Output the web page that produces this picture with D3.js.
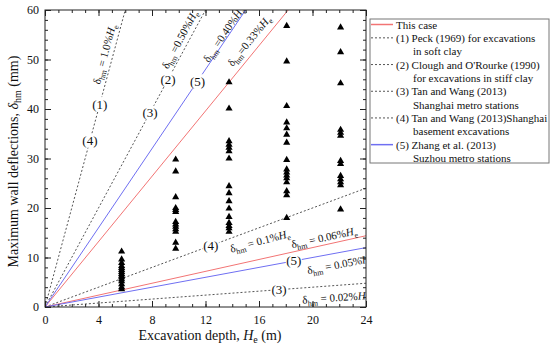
<!DOCTYPE html>
<html>
<head>
<meta charset="utf-8">
<script src="https://cdn.jsdelivr.net/npm/d3@7"></script>
<style>
  body { margin: 0; background: #fff; }
  text { font-family: "Liberation Serif", "Times New Roman", serif; fill: #111; }
</style>
</head>
<body>
<svg id="chart" width="550" height="350"></svg>
<script>
// excavation depth of each measured group (m)
const depths = [5.73, 9.77, 13.76, 18.07, 22.1];
// max wall deflections measured at each depth (mm)
const group1 = [11.2, 9.6, 8.9, 8.3, 7.9, 7.5, 7.1, 6.7, 6.3, 6.0, 5.6, 5.2, 4.6, 4.0, 3.6];
const group2 = [29.8, 27.4, 22.2, 20.0, 19.6, 19.2, 17.2, 16.7, 16.2, 15.7, 15.2, 13.0, 11.8];
const group3 = [45.4, 40.1, 33.5, 32.8, 32.2, 31.5, 30.0, 24.4, 23.0, 21.4, 19.9, 18.2, 17.0, 16.4, 15.9, 15.2];
const group4 = [56.8, 49.6, 40.6, 37.3, 36.1, 34.8, 33.2, 29.7, 27.8, 27.2, 26.6, 26.0, 25.2, 23.4, 22.6, 18.0];
const group5 = [56.5, 51.5, 45.2, 35.8, 35.2, 34.6, 29.5, 28.9, 26.5, 25.8, 25.2, 24.6, 19.7];
const groups = [group1, group2, group3, group4, group5];

// ratio lines delta = r% * He
const redRatios = [0.33, 0.06];
const blueRatios = [0.40, 0.05];
const dashRatios = [1.0, 0.5, 0.1, 0.02];

const xTicks = [0, 4, 8, 12, 16, 20, 24];
const yTicks = [0, 10, 20, 30, 40, 50, 60];

const legendItems = [
  {kind: "red", lines: ["This case"]},
  {kind: "dash", lines: ["(1) Peck (1969) for excavations", "in soft clay"]},
  {kind: "dash", lines: ["(2) Clough and O'Rourke (1990)", "for excavations in stiff clay"]},
  {kind: "dash", lines: ["(3) Tan and Wang (2013)", "Shanghai metro stations"]},
  {kind: "dash", lines: ["(4) Tan and Wang (2013)Shanghai", "basement excavations"]},
  {kind: "blue", lines: ["(5) Zhang et al. (2013)", "Suzhou metro stations"]}
];

// numbered tags sitting on the lines: [text, ratio, He]
const tags = [
  ["(1)", 1.0, 4.1], ["(4)", 1.0, 3.36], ["(2)", 0.5, 9.2], ["(3)", 0.5, 7.85],
  ["(5)", 0.40, 11.4], ["(4)", 0.1, 12.4], ["(5)", 0.05, 18.6], ["(3)", 0.02, 17.5]
];

// ratio labels: [ratio text, He, delta, angle, sep]
const ratioLabels = [
  ["1.0%", 4.71, 51.5, -75, " = "],
  ["0.50%", 10.32, 54.3, -62, " ="],
  ["0.40%", 13.59, 55.3, -56, " ="],
  ["0.33%", 15.48, 53.9, -51, "="],
  ["0.1%", 16.15, 13.2, -15, " = "],
  ["0.06%", 20.93, 13.9, -12, " = "],
  ["0.05%", 22.13, 8.5, -11, " = "],
  ["0.02%", 21.76, 1.76, -4, " = "]
];

const margin = {left: 45, top: 10, right: 184, bottom: 43};
const svg = d3.select("#chart");
const W = 550 - margin.left - margin.right;
const H = 350 - margin.top - margin.bottom;

const x = d3.scaleLinear().domain([0, 24]).range([0, W]);
const y = d3.scaleLinear().domain([0, 60]).range([H, 0]);

const red = "#f27474", blue = "#6f6ff2", dashColor = "#555";

const g = svg.append("g").attr("transform", `translate(${margin.left},${margin.top})`);

g.append("clipPath").attr("id", "clip")
  .append("rect").attr("width", W).attr("height", H);

const plot = g.append("g").attr("clip-path", "url(#clip)");

function ratioLine(r, color, dash) {
  plot.append("line")
    .attr("x1", x(0)).attr("y1", y(0))
    .attr("x2", x(24)).attr("y2", y(r * 10 * 24))
    .attr("stroke", color)
    .attr("stroke-width", 1)
    .attr("stroke-dasharray", dash ? "2,2" : null);
}
dashRatios.forEach(r => ratioLine(r, dashColor, true));
redRatios.forEach(r => ratioLine(r, red, false));
blueRatios.forEach(r => ratioLine(r, blue, false));

// measured points
const tri = d3.symbol().type(d3.symbolTriangle).size(22);
groups.forEach((vals, i) => {
  plot.selectAll(null).data(vals).enter().append("path")
    .attr("d", tri)
    .attr("transform", d => `translate(${x(depths[i])},${y(d)})`)
    .attr("fill", "#000");
});

// numbered tags with white background
tags.forEach(t => {
  const px = x(t[2]), py = y(t[1] * 10 * t[2]);
  plot.append("rect")
    .attr("x", px - 8).attr("y", py - 7).attr("width", 16).attr("height", 14)
    .attr("fill", "#fff");
  plot.append("text")
    .attr("x", px).attr("y", py + 4.5)
    .attr("text-anchor", "middle")
    .attr("font-size", 13)
    .text(t[0]);
});

// ratio labels
ratioLabels.forEach(l => {
  const t = plot.append("text")
    .attr("transform", `translate(${x(l[1])},${y(l[2]) + 3}) rotate(${l[3]})`)
    .attr("text-anchor", "middle")
    .attr("font-size", 11);
  t.append("tspan").text("δ");
  t.append("tspan").attr("font-size", 8).attr("dy", 3).text("hm");
  t.append("tspan").attr("dy", -3).text(l[4] + l[0]);
  t.append("tspan").attr("font-style", "italic").text("H");
  t.append("tspan").attr("font-size", 8).attr("dy", 3).text("e");
});

// axes, ticks inward on all sides
function addAxis(axis, tr) {
  const a = g.append("g").attr("transform", tr).call(axis);
  a.select(".domain").remove();
  a.selectAll("line").attr("stroke", "#222");
  return a;
}
const minorX = d3.range(0, 25, 1), minorY = d3.range(0, 61, 2);

addAxis(d3.axisBottom(x).tickValues(minorX).tickSize(-3).tickFormat(""), `translate(0,${H})`);
addAxis(d3.axisTop(x).tickValues(minorX).tickSize(-3).tickFormat(""), "translate(0,0)");
addAxis(d3.axisLeft(y).tickValues(minorY).tickSize(-3).tickFormat(""), "translate(0,0)");
addAxis(d3.axisRight(y).tickValues(minorY).tickSize(-3).tickFormat(""), `translate(${W},0)`);

const xb = addAxis(d3.axisBottom(x).tickValues(xTicks).tickSize(-6).tickPadding(8), `translate(0,${H})`);
addAxis(d3.axisTop(x).tickValues(xTicks).tickSize(-6).tickFormat(""), "translate(0,0)");
const yl = addAxis(d3.axisLeft(y).tickValues(yTicks).tickSize(-6).tickPadding(6), "translate(0,0)");
addAxis(d3.axisRight(y).tickValues(yTicks).tickSize(-6).tickFormat(""), `translate(${W},0)`);
[xb, yl].forEach(a => a.selectAll("text")
  .attr("font-family", "Liberation Serif").attr("font-size", 12).attr("fill", "#111"));

g.append("rect").attr("width", W).attr("height", H)
  .attr("fill", "none").attr("stroke", "#222").attr("stroke-width", 1);

// axis titles
const xt = g.append("text")
  .attr("x", 165).attr("y", H + 33)
  .attr("text-anchor", "middle").attr("font-size", 14);
xt.append("tspan").text("Excavation depth, ");
xt.append("tspan").attr("font-style", "italic").text("H");
xt.append("tspan").attr("font-size", 10).attr("dy", 3).text("e");
xt.append("tspan").attr("dy", -3).text(" (m)");

const yt = g.append("text")
  .attr("transform", `translate(-27,${H / 2 + 3}) rotate(-90)`)
  .attr("text-anchor", "middle").attr("font-size", 14);
yt.append("tspan").text("Maximum wall deflections, ");
yt.append("tspan").attr("font-style", "italic").text("δ");
yt.append("tspan").attr("font-size", 10).attr("dy", 3).text("hm");
yt.append("tspan").attr("dy", -3).text(" (mm)");

// legend
const lg = svg.append("g").attr("transform", "translate(370,19)");
lg.append("rect").attr("width", 179).attr("height", 144)
  .attr("fill", "#fff").attr("stroke", "#777").attr("stroke-width", 1);
let row = 0;
legendItems.forEach(item => {
  const ly = 5.5 + row * 13.35;
  lg.append("line")
    .attr("x1", 1).attr("x2", 23).attr("y1", ly).attr("y2", ly)
    .attr("stroke", item.kind === "red" ? red : item.kind === "blue" ? blue : dashColor)
    .attr("stroke-width", item.kind === "dash" ? 1 : 1.5)
    .attr("stroke-dasharray", item.kind === "dash" ? "2,2" : null);
  item.lines.forEach((s, k) => {
    lg.append("text")
      .attr("x", k === 0 ? 26 : 43)
      .attr("y", 5.5 + row * 13.35 + 4)
      .attr("font-size", 11)
      .text(s);
    row++;
  });
});
</script>
</body>
</html>
